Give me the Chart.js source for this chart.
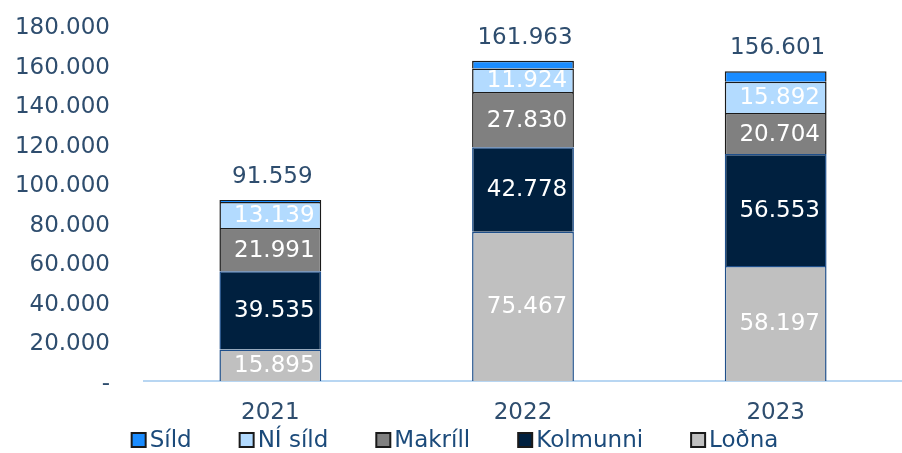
<!DOCTYPE html>
<html>
<head>
<meta charset="utf-8">
<script src="https://cdn.jsdelivr.net/npm/chart.js@4/dist/chart.umd.min.js"></script>
<style>
  html, body { margin: 0; padding: 0; background: #fff; }
  #wrap { width: 902px; height: 453px; }
</style>
</head>
<body>
<div id="wrap"><canvas id="catch"></canvas></div>
<script>
var years = ['2021', '2022', '2023'];
var lodna = [15895, 75467, 58197];
var kolmunni = [39535, 42778, 56553];
var makrill = [21991, 27830, 20704];
var niSild = [13139, 11924, 15892];
var sild = [999, 3964, 5255];

var txtColor = '#2e4d6e';
var fontFam = '"DejaVu Sans", Verdana, sans-serif';

function fmt(v) {
    return Math.round(v).toString().replace(/\B(?=(\d{3})+(?!\d))/g, '.');
};

// labels inside the segments and the total on top
var labelPlugin = {
    id: 'barLabels',
    afterDatasetsDraw: function(chart) {
        let ctx = chart.ctx;
        ctx.save();
        ctx.font = '23px ' + fontFam;
        ctx.textAlign = 'center';
        ctx.textBaseline = 'middle';
        let n = chart.data.labels.length;
        for (let i = 0; i < n; i++) {
            let total = 0, topY = null, x = 0;
            chart.data.datasets.forEach(function(ds, d) {
                let bar = chart.getDatasetMeta(d).data[i];
                total += ds.data[i];
                x = bar.x;
                topY = bar.y;
                if (ds.showValue) {
                    ctx.fillStyle = '#ffffff';
                    ctx.fillText(fmt(ds.data[i]), bar.x + 4, (bar.y + bar.base) / 2 + 1);
                }
            });
            ctx.fillStyle = txtColor;
            ctx.fillText(fmt(total), x + 2, topY - 23);
        }
        ctx.restore();
    }
};

// legend drawn by hand so spacing matches (top series first)
var legendPlugin = {
    id: 'ownLegend',
    afterDraw: function(chart) {
        let ctx = chart.ctx;
        ctx.save();
        ctx.font = '23px ' + fontFam;
        ctx.textBaseline = 'middle';
        ctx.textAlign = 'left';
        let items = chart.data.datasets.slice().reverse();
        let box = 14, gapText = 4, gapItem = 48;
        let widths = items.map(function(ds) { return box + gapText + ctx.measureText(ds.label).width; });
        let totalW = widths.reduce(function(a, b) { return a + b; }, 0) + gapItem * (items.length - 1);
        let x = 455 - totalW / 2;
        let y = 440;
        items.forEach(function(ds, k) {
            ctx.fillStyle = ds.backgroundColor;
            ctx.fillRect(x, y - box / 2, box, box);
            ctx.strokeStyle = '#1a1a1a';
            ctx.lineWidth = 2;
            ctx.strokeRect(x, y - box / 2, box, box);
            ctx.fillStyle = '#1b4a7a';
            ctx.fillText(ds.label, x + box + gapText, y + 1);
            x += widths[k] + gapItem;
        });
        ctx.restore();
    }
};

new Chart(document.getElementById('catch'), {
    type: 'bar',
    data: {
        labels: years,
        datasets: [
            { label: 'Loðna', data: lodna, backgroundColor: '#c0c0c0', borderColor: '#1f4f8a', showValue: true },
            { label: 'Kolmunni', data: kolmunni, backgroundColor: '#00203f', borderColor: '#1f4f8a', showValue: true },
            { label: 'Makríll', data: makrill, backgroundColor: '#808080', borderColor: '#1a1a1a', showValue: true },
            { label: 'NÍ síld', data: niSild, backgroundColor: '#b3dbff', borderColor: '#1a1a1a', showValue: true },
            { label: 'Síld', data: sild, backgroundColor: '#1a8cff', borderColor: '#1a1a1a', showValue: false }
        ].map(function(ds) {
            ds.borderWidth = 1.5;
            ds.barPercentage = 0.403;
            ds.categoryPercentage = 1;
            return ds;
        })
    },
    options: {
        responsive: true,
        maintainAspectRatio: false,
        animation: false,
        layout: { padding: { top: 0, left: 14, right: 0, bottom: 28 } },
        scales: {
            x: {
                stacked: true,
                grid: { display: false, drawTicks: false },
                border: { display: true, color: '#b8d6f2', width: 2 },
                ticks: { color: txtColor, font: { family: fontFam, size: 23 }, padding: 18 },
                afterFit: function(scale) {
                    scale.height = 44;
                    scale.paddingLeft = 0;
                    scale.paddingRight = 0;
                }
            },
            y: {
                stacked: true,
                min: 0,
                max: 180000,
                grid: { display: false, drawTicks: false },
                border: { display: false },
                ticks: {
                    stepSize: 20000,
                    autoSkip: false,
                    color: txtColor,
                    padding: 34,
                    labelOffset: 3,
                    font: { family: fontFam, size: 23 },
                    callback: function(v) { return v === 0 ? '-' : fmt(v); }
                },
                afterFit: function(scale) {
                    scale.width = 130;
                    scale.paddingTop = 25;
                    scale.paddingBottom = 0;
                }
            }
        },
        plugins: {
            legend: { display: false },
            tooltip: { enabled: false }
        }
    },
    plugins: [labelPlugin, legendPlugin]
});
</script>
</body>
</html>
